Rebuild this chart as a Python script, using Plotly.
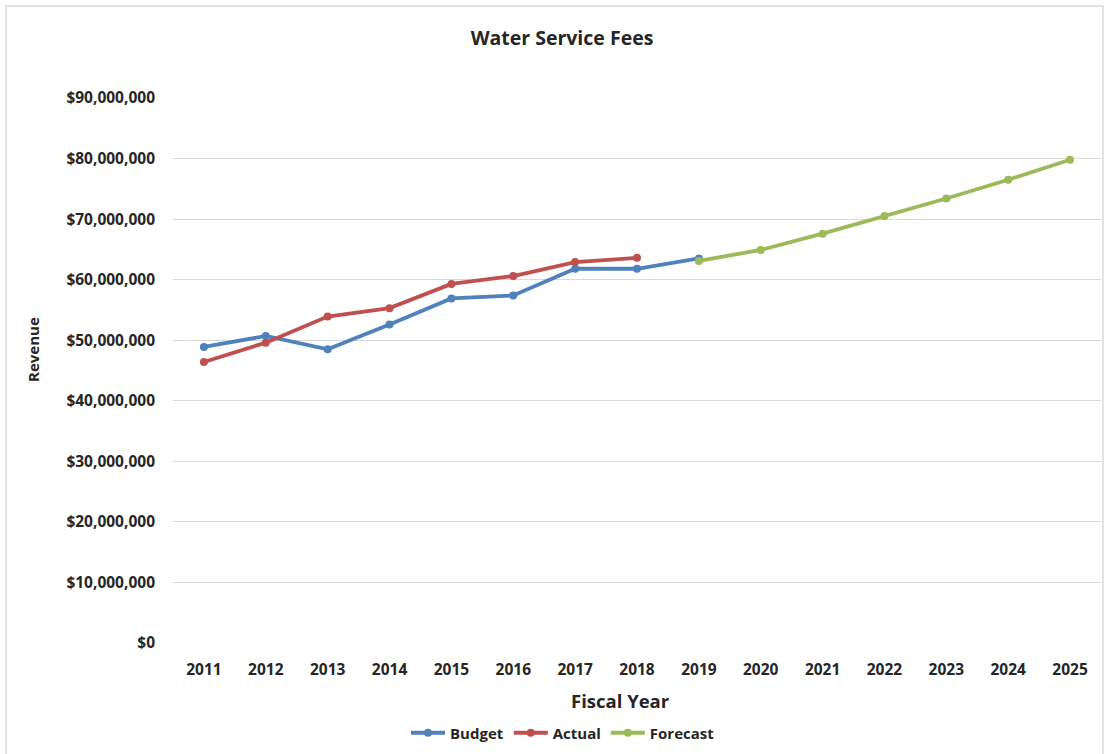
import plotly.graph_objects as go

years = [2011, 2012, 2013, 2014, 2015, 2016, 2017, 2018, 2019, 2020, 2021, 2022, 2023, 2024, 2025]
budget_years = [2011, 2012, 2013, 2014, 2015, 2016, 2017, 2018, 2019]
budget = [48.9e6, 50.7e6, 48.5e6, 52.6e6, 56.9e6, 57.4e6, 61.8e6, 61.8e6, 63.5e6]
actual_years = [2011, 2012, 2013, 2014, 2015, 2016, 2017, 2018]
actual = [46.4e6, 49.6e6, 53.9e6, 55.3e6, 59.3e6, 60.6e6, 62.9e6, 63.6e6]
forecast_years = [2019, 2020, 2021, 2022, 2023, 2024, 2025]
forecast = [63.1e6, 64.9e6, 67.6e6, 70.5e6, 73.4e6, 76.5e6, 79.8e6]
y_ticks = [0, 10e6, 20e6, 30e6, 40e6, 50e6, 60e6, 70e6, 80e6, 90e6]
y_labels = ["$0", "$10,000,000", "$20,000,000", "$30,000,000", "$40,000,000",
            "$50,000,000", "$60,000,000", "$70,000,000", "$80,000,000", "$90,000,000"]

FONT = "Open Sans"
TXT = "#262626"

fig = go.Figure()
series = [
    ("Budget", budget_years, budget, "#4F81BD"),
    ("Actual", actual_years, actual, "#C0504D"),
    ("Forecast", forecast_years, forecast, "#9BBB59"),
]
for name, xs, ys, col in series:
    fig.add_trace(go.Scatter(
        x=xs, y=ys, name=f"<b>{name}</b>", mode="lines+markers",
        line=dict(color=col, width=3.8),
        marker=dict(color=col, size=8, symbol="circle"),
    ))

L, R, T, B = 173, 3, 98, 111
pw = 1104 - L - R
ph = 754 - T - B

fig.update_layout(
    width=1104, height=754,
    margin=dict(l=L, r=R, t=T, b=B),
    paper_bgcolor="white", plot_bgcolor="white",
    font=dict(family=FONT, color=TXT),
    title=dict(text="<b>Water Service Fees</b>", x=562/1104, xanchor="center",
               y=1 - 38/754, yanchor="middle", font=dict(size=19.5, family=FONT, color=TXT)),
    xaxis=dict(
        range=[2010.5, 2025.5], tickmode="array", tickvals=years,
        ticktext=[f"<b>{y}</b>" for y in years],
        showgrid=False, zeroline=False, showline=False,
        ticks="", ticklabelstandoff=15,
        tickfont=dict(size=15.5, family=FONT, color=TXT),
    ),
    yaxis=dict(
        range=[0, 90e6], tickmode="array", tickvals=y_ticks,
        ticktext=[f"<b>{t}</b>" for t in y_labels],
        showgrid=True, gridcolor="#D9D9D9", gridwidth=1,
        zeroline=False, showline=False, ticks="", ticklabelstandoff=17,
        tickfont=dict(size=15.5, family=FONT, color=TXT),
    ),
    annotations=[
        dict(text="<b>Fiscal Year</b>", xref="paper", yref="paper",
             x=(620 - L) / pw, y=(754 - B - 701) / ph, xanchor="center", yanchor="middle",
             showarrow=False, font=dict(size=18.5, family=FONT, color=TXT)),
        dict(text="<b>Revenue</b>", xref="paper", yref="paper", textangle=-90,
             x=(33 - L) / pw, y=(754 - B - 350) / ph, xanchor="center", yanchor="middle",
             showarrow=False, font=dict(size=15, family=FONT, color=TXT)),
    ],
    showlegend=True,
    legend=dict(orientation="h", x=563/1104, xref="container", xanchor="center",
                y=1 - 733/754, yref="container", yanchor="middle",
                font=dict(size=15, family=FONT, color=TXT),
                itemwidth=34, tracegroupgap=0, bgcolor="rgba(0,0,0,0)"),
    shapes=[dict(type="rect", xref="paper", yref="paper",
                 x0=(6 - L) / pw, x1=(1103 - L) / pw,
                 y0=(754 - B - 770) / ph, y1=(754 - B - 6) / ph,
                 line=dict(color="#D9D9D9", width=1.5), fillcolor="rgba(0,0,0,0)", layer="below")],
)

fig.write_html("out.html")
